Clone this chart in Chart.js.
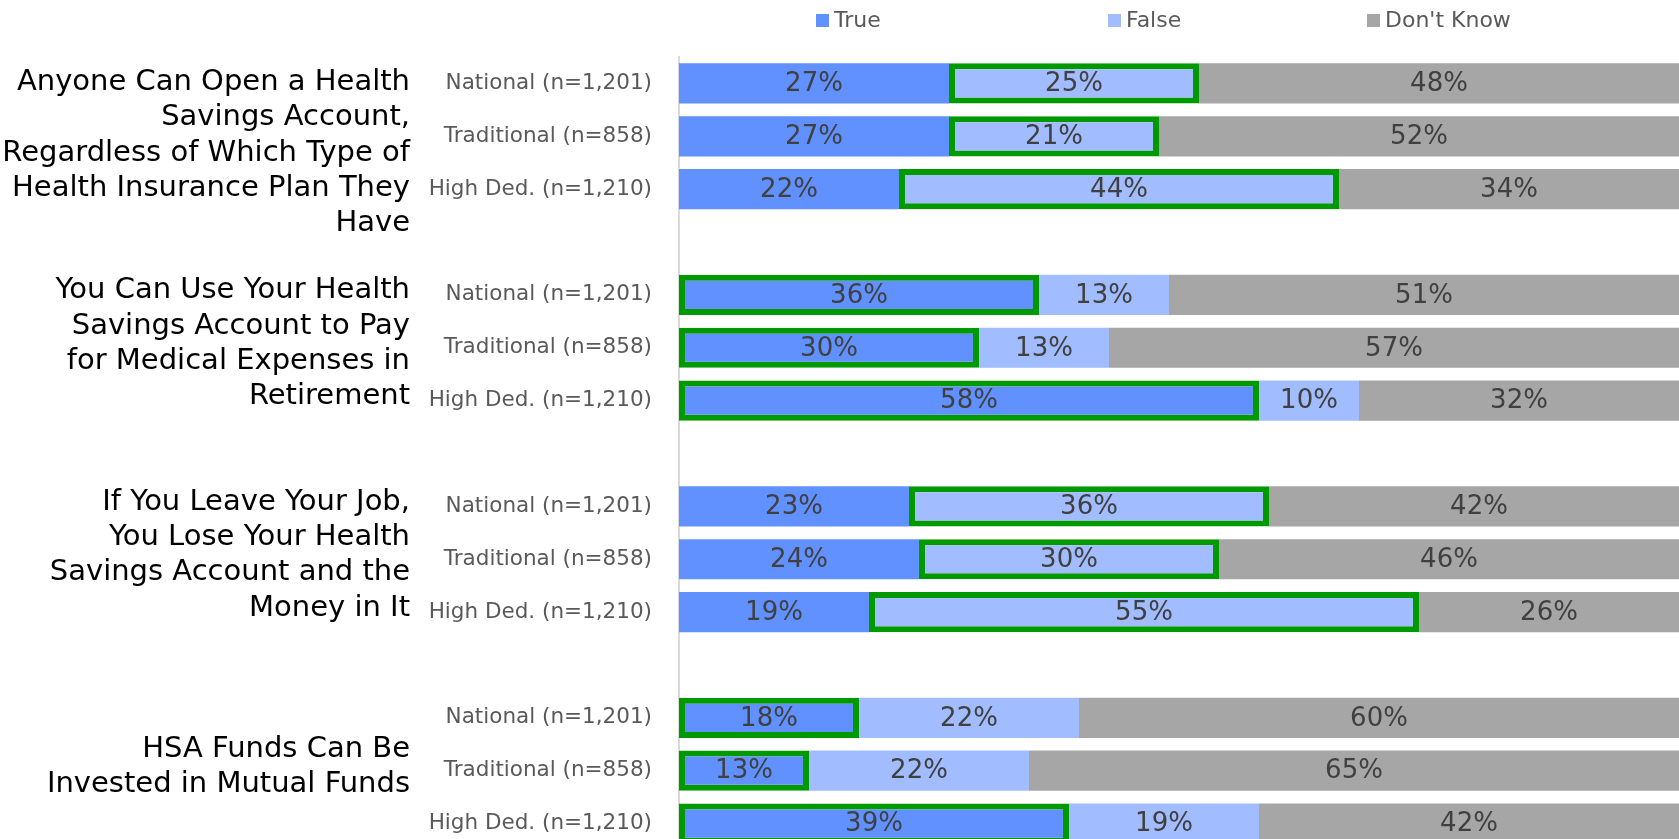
<!DOCTYPE html>
<html>
<head>
<meta charset="utf-8">
<script src="https://cdn.jsdelivr.net/npm/chart.js@4.4.1/dist/chart.umd.min.js"></script>
<style>
  html, body { margin: 0; padding: 0; overflow: hidden; background: #fff; }
  canvas { display: block; }
</style>
</head>
<body>
<canvas id="hsa-chart" width="1679" height="850"></canvas>
<script>
// statements (group labels, one line per entry)
const groups = [
  ['Anyone Can Open a Health', 'Savings Account,', 'Regardless of Which Type of', 'Health Insurance Plan They', 'Have'],
  ['You Can Use Your Health', 'Savings Account to Pay', 'for Medical Expenses in', 'Retirement'],
  ['If You Leave Your Job,', 'You Lose Your Health', 'Savings Account and the', 'Money in It'],
  ['HSA Funds Can Be', 'Invested in Mutual Funds']
];
const segments = ['National (n=1,201)', 'Traditional (n=858)', 'High Ded. (n=1,210)'];

// % answering, per statement, per segment
const trueVals  = [[27, 27, 22], [36, 30, 58], [23, 24, 19], [18, 13, 39]];
const falseVals = [[25, 21, 44], [13, 13, 10], [36, 30, 55], [22, 22, 19]];
const dkVals    = [[48, 52, 34], [51, 57, 32], [42, 46, 26], [60, 65, 42]];

// the right answer gets the green outline
const correctAnswer = ['False', 'True', 'False', 'True'];

const FONT = 'DejaVu Sans';

// rows: 3 segments per group, blank row between groups
let labels = [];
let rowGroup = [];
groups.forEach((g, gi) => {
  segments.forEach(s => { labels.push(s); rowGroup.push(gi); });
  if (gi < groups.length - 1) { labels.push(''); rowGroup.push(-1); }
});

function flat(vals) {
  let out = [];
  vals.forEach((v, gi) => {
    v.forEach(x => out.push(x));
    if (gi < vals.length - 1) out.push(null);
  });
  return out;
}

function makeSet(name, vals, color) {
  return {
    label: name,
    data: flat(vals),
    backgroundColor: color,
    borderColor: '#009A00',
    borderWidth: rowGroup.map(g => (g >= 0 && correctAnswer[g] === name) ? 6 : 0),
    borderSkipped: false,
    categoryPercentage: 0.76,
    barPercentage: 1
  };
}

const valueLabels = {
  id: 'valueLabels',
  afterDatasetsDraw(chart) {
    const ctx = chart.ctx;
    ctx.save();
    ctx.font = '26px "' + FONT + '"';
    ctx.fillStyle = '#404040';
    ctx.textAlign = 'center';
    ctx.textBaseline = 'middle';
    chart.data.datasets.forEach((ds, di) => {
      chart.getDatasetMeta(di).data.forEach((el, i) => {
        const v = ds.data[i];
        if (v == null) return;
        const p = el.getProps(['x', 'y', 'base'], true);
        ctx.fillText(v + '%', (p.x + p.base) / 2, p.y + 1);
      });
    });
    ctx.restore();
  }
};

const groupLabels = {
  id: 'groupLabels',
  afterDraw(chart) {
    const ctx = chart.ctx;
    const y = chart.scales.y;
    const area = chart.chartArea;
    const lineH = 35.3;
    ctx.save();
    ctx.font = '29px "' + FONT + '"';
    ctx.fillStyle = '#000000';
    ctx.textAlign = 'right';
    ctx.textBaseline = 'middle';
    groups.forEach((lines, gi) => {
      const mid = y.getPixelForValue(gi * 4 + 1);
      const blockH = lines.length * lineH;
      let top = mid - 4 - blockH / 2;
      if (top < area.top + 8) top = area.top + 8;
      lines.forEach((t, k) => ctx.fillText(t, area.left - 269, top + lineH * (k + 0.5)));
    });
    ctx.restore();
  }
};

const topLegend = {
  id: 'topLegend',
  afterDraw(chart) {
    const ctx = chart.ctx;
    const area = chart.chartArea;
    const spots = [0.137, 0.429, 0.688];
    ctx.save();
    ctx.font = '22px "' + FONT + '"';
    ctx.textAlign = 'left';
    ctx.textBaseline = 'middle';
    chart.data.datasets.forEach((ds, di) => {
      const x = area.left + spots[di] * (area.right - area.left);
      ctx.fillStyle = ds.backgroundColor;
      ctx.fillRect(x, 14, 13, 13);
      ctx.fillStyle = '#595959';
      ctx.fillText(ds.label, x + 18, 21);
    });
    ctx.restore();
  }
};

new Chart(document.getElementById('hsa-chart'), {
  type: 'bar',
  data: {
    labels: labels,
    datasets: [
      makeSet('True', trueVals, '#6190FF'),
      makeSet('False', falseVals, '#A1BCFF'),
      makeSet("Don't Know", dkVals, '#A6A6A6')
    ]
  },
  options: {
    indexAxis: 'y',
    responsive: false,
    animation: false,
    layout: { padding: { top: 57, right: 0, bottom: 0, left: 0 } },
    scales: {
      x: { stacked: true, min: 0, max: 100, display: false },
      y: {
        stacked: true,
        grid: { display: false, drawTicks: false },
        border: { color: '#D9D9D9', width: 2 },
        ticks: {
          autoSkip: false,
          padding: 27,
          color: '#595959',
          font: { family: FONT, size: 21.5 }
        },
        afterFit(s) {
          s.width = 679;
          s.paddingTop = 0;
          s.paddingBottom = 0;
        }
      }
    },
    plugins: {
      legend: { display: false },
      tooltip: { enabled: false }
    }
  },
  plugins: [valueLabels, groupLabels, topLegend]
});
</script>
</body>
</html>
